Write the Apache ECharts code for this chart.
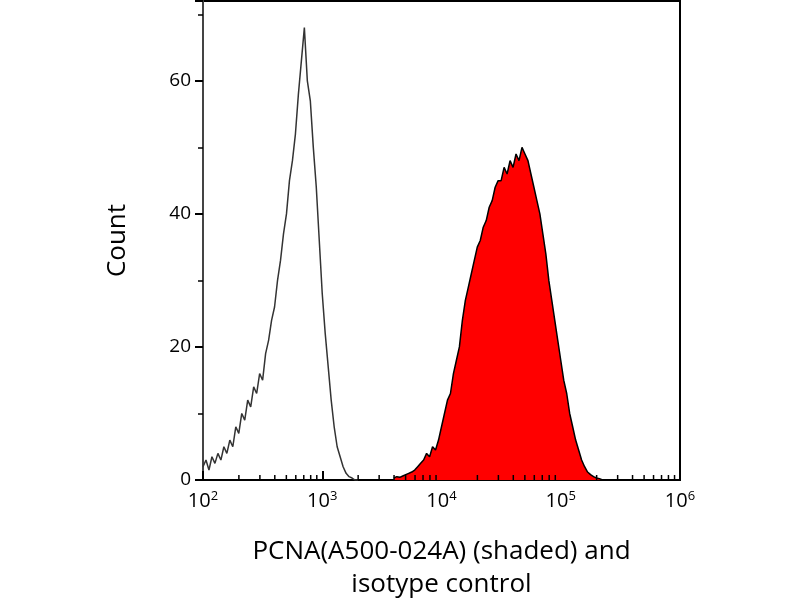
<!DOCTYPE html>
<html><head><meta charset="utf-8">
<script src="https://cdn.jsdelivr.net/npm/echarts@6/dist/echarts.min.js"></script>
<style>html,body{margin:0;padding:0;background:#fff}#c{width:800px;height:600px}</style>
</head><body><div id="c"></div>
<script>
// x values are log10 of fluorescence
const isoX = [2.0,2.025,2.05,2.075,2.1,2.125,2.15,2.175,2.2,2.225,2.25,2.275,2.3,2.325,2.35,2.375,2.4,2.425,2.45,2.475,2.5,2.525,2.55,2.575,2.6,2.625,2.65,2.675,2.7,2.725,2.75,2.775,2.8,2.825,2.85,2.875,2.9,2.925,2.95,2.975,3.0,3.025,3.05,3.075,3.1,3.125,3.15,3.175,3.2,3.225,3.25,3.275,3.3];
const isoY = [2,3,1.5,3.5,2.5,4,3,5,4,6,5,8,7,10,9,12,11,14,13,16,15,19,21,24,26,30,33,37,40,45,48,52,58,63,68,60,57,50,44,36,28,22,17,12,8,5,3.5,2,1,0.5,0.3,0,0];
const pcnaX = [3.6,3.625,3.65,3.675,3.7,3.725,3.75,3.775,3.8,3.825,3.85,3.875,3.9,3.925,3.95,3.975,4.0,4.025,4.05,4.075,4.1,4.125,4.15,4.175,4.2,4.225,4.25,4.275,4.3,4.325,4.35,4.375,4.4,4.425,4.45,4.475,4.5,4.525,4.55,4.575,4.6,4.625,4.65,4.675,4.7,4.725,4.75,4.775,4.8,4.825,4.85,4.875,4.9,4.925,4.95,4.975,5.0,5.025,5.05,5.075,5.1,5.125,5.15,5.175,5.2,5.225,5.25,5.275,5.3,5.325,5.35,5.375,5.4];
const pcnaY = [0.3,0.5,0.4,0.6,0.8,1,1.2,1.5,2,2.5,3,4,3.5,5,4.5,6,8,10,12,13,16,18,20,24,27,29,31,33,35,36,38,39,41,42,44,45,45,47,46,48,47,49,48,50,49,48,46,44,42,40,37,34,30,27,24,21,18,15,13,10,8,6,4.5,3,2,1.2,0.8,0.5,0.3,0.2,0,0,0];
const xTicks = [2,3,4,5,6];
const yTicks = [0,20,40,60];
const minorMult = [2,3,4,5,6,7,8,9];

const minor = [];
for (let d = 2; d < 6; d++) for (const m of minorMult) minor.push([d + Math.log10(m), 0]);

const chart = echarts.init(document.getElementById('c'));
const font = 'Open Sans';
chart.setOption({
  animation: false,
  grid: {left: 203, right: 120, top: 1, bottom: 120, show: true, borderColor: '#000', borderWidth: 2, outerBoundsMode: 'none', containLabel: false},
  xAxis: {
    type: 'value', min: 2, max: 6, interval: 1,
    name: 'PCNA(A500-024A) (shaded) and\nisotype control', nameLocation: 'middle', nameGap: 55,
    nameTextStyle: {fontFamily: font, fontSize: 26, color: '#000', lineHeight: 33},
    axisLine: {onZero: false, lineStyle: {color: '#000', width: 2}},
    axisTick: {inside: true, length: 9, lineStyle: {color: '#000', width: 2}},
    axisLabel: {fontFamily: font, fontSize: 20, color: '#000', margin: 10,
      formatter: v => '10{s|' + v + '}', rich: {s: {fontSize: 13, verticalAlign: 'top', padding: [0,0,10,0], fontFamily: font}}},
    splitLine: {show: false}
  },
  yAxis: {
    type: 'value', min: 0, max: 72, interval: 20,
    name: 'Count', nameLocation: 'middle', nameGap: 72,
    nameTextStyle: {fontFamily: font, fontSize: 26, color: '#000'},
    axisLine: {lineStyle: {color: '#444', width: 2}},
    axisTick: {length: 8, lineStyle: {color: '#000', width: 2}},
    minorTick: {show: true, splitNumber: 2, length: 5, lineStyle: {color: '#000', width: 1.5}},
    axisLabel: {fontFamily: font, fontSize: 19, color: '#000', margin: 12, formatter: v => yTicks.includes(v) ? v : ''},
    splitLine: {show: false}
  },
  series: [
    {type: 'line', data: pcnaX.map((x, i) => [x, pcnaY[i]]), symbol: 'none',
      lineStyle: {color: '#000', width: 1.5}, areaStyle: {color: '#ff0000', opacity: 1}, z: 2},
    {type: 'line', data: isoX.map((x, i) => [x, isoY[i]]), symbol: 'none',
      lineStyle: {color: '#333', width: 1.5}, z: 3},
    {type: 'custom', data: minor, z: 5, silent: true,
      renderItem: (p, api) => {
        const pt = api.coord([api.value(0), 0]);
        return {type: 'line', shape: {x1: pt[0], y1: pt[1], x2: pt[0], y2: pt[1] - 5}, style: {stroke: '#000', lineWidth: 1.5}};
      }}
  ]
});
</script></body></html>
